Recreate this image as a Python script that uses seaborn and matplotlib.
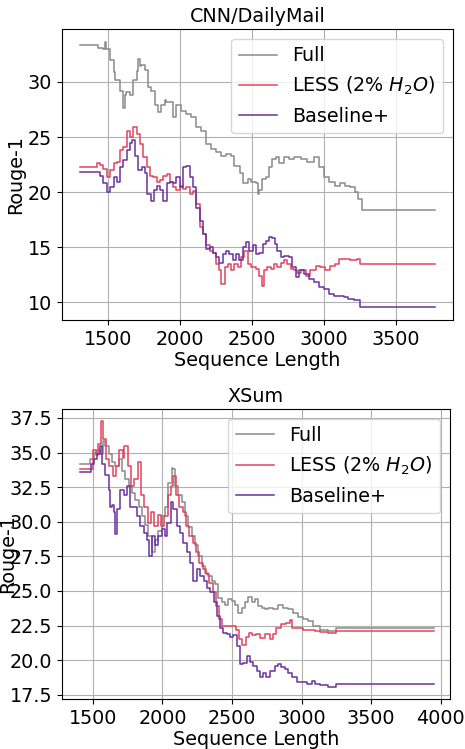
import numpy as np
import pandas as pd
import matplotlib
matplotlib.use("Agg")
import matplotlib.pyplot as plt
import seaborn as sns

methods = ["Full", "LESS (2% $H_2O$)", "Baseline+"]
colors = ["#8a8a8a", "#e2435f", "#6a329f"]

# ---- CNN/DailyMail ----
cnn_full_x = [1304, 1412, 1435, 1470, 1480, 1490, 1516, 1540, 1552, 1585, 1608, 1618, 1630, 1653, 1676,
              1700, 1711, 1722, 1734, 1757, 1780, 1803, 1826, 1849, 1872, 1895, 1907, 1930, 1953, 1976,
              2011, 2045, 2080, 2115, 2149, 2184, 2218, 2253, 2288, 2322, 2357, 2380, 2415, 2438, 2472,
              2496, 2516, 2530, 2546, 2551, 2574, 2597, 2620, 2643, 2666, 2689, 2723, 2758, 2793, 2839,
              2885, 2930, 2965, 3000, 3034, 3080, 3115, 3149, 3184, 3218, 3241, 3264, 3776]
cnn_full_y = [33.33, 33.33, 33.1, 33.0, 33.6, 33.0, 32.0, 30.9, 30.2, 29.2, 27.6, 28.8, 29.1, 28.8, 30.2,
              31.0, 32.1, 31.4, 31.5, 31.1, 29.5, 29.2, 27.9, 27.3, 27.9, 28.4, 28.2, 28.2, 26.8, 27.9,
              27.4, 27.1, 26.8, 25.9, 25.5, 24.4, 23.9, 23.6, 23.3, 23.5, 23.3, 22.4, 21.7, 20.8, 21.2,
              20.9, 20.9, 20.8, 19.8, 20.2, 21.2, 21.4, 22.3, 23.0, 23.2, 22.6, 23.2, 23.0, 23.2, 23.0,
              22.7, 23.2, 22.3, 21.4, 20.9, 20.6, 20.8, 20.6, 20.5, 20.0, 19.4, 18.4, 18.4]

cnn_less_x = [1304, 1412, 1424, 1447, 1470, 1493, 1516, 1540, 1563, 1586, 1609, 1632, 1655, 1678, 1701,
              1724, 1747, 1770, 1793, 1816, 1839, 1862, 1885, 1908, 1931, 1954, 1977, 2000, 2023, 2046,
              2069, 2092, 2115, 2138, 2161, 2184, 2207, 2230, 2253, 2276, 2288, 2311, 2334, 2357, 2380,
              2403, 2426, 2449, 2472, 2496, 2530, 2551, 2570, 2586, 2609, 2632, 2655, 2678, 2701, 2724,
              2747, 2770, 2793, 2816, 2839, 2874, 2908, 2943, 2977, 3011, 3046, 3080, 3103, 3138, 3184,
              3230, 3253, 3776]
cnn_less_y = [22.3, 22.3, 22.6, 22.5, 22.1, 21.4, 22.0, 22.6, 22.7, 23.8, 24.1, 25.5, 25.0, 25.9, 25.3,
              24.4, 23.2, 22.3, 21.5, 21.4, 20.9, 21.1, 21.5, 21.6, 20.9, 20.5, 20.2, 20.6, 20.3, 20.5,
              19.8, 20.1, 18.9, 16.8, 16.2, 15.2, 14.7, 14.5, 13.5, 12.9, 11.7, 13.2, 13.5, 12.9, 13.5,
              13.2, 14.1, 14.7, 13.5, 13.2, 13.0, 12.4, 11.5, 12.9, 13.2, 13.0, 13.5, 13.2, 13.6, 13.8,
              13.5, 13.0, 12.9, 12.7, 12.9, 12.4, 12.9, 13.3, 13.2, 12.9, 13.3, 13.5, 13.9, 13.9, 13.8,
              13.9, 13.5, 13.5]

cnn_base_x = [1304, 1424, 1447, 1470, 1493, 1516, 1540, 1563, 1586, 1609, 1632, 1655, 1666, 1689, 1712,
              1735, 1758, 1775, 1798, 1821, 1844, 1862, 1885, 1908, 1931, 1954, 1977, 2000, 2023, 2046,
              2069, 2092, 2115, 2138, 2161, 2184, 2207, 2230, 2253, 2276, 2299, 2322, 2345, 2368, 2391,
              2414, 2437, 2460, 2483, 2506, 2530, 2553, 2577, 2597, 2620, 2643, 2659, 2678, 2701, 2724,
              2758, 2781, 2804, 2827, 2862, 2897, 2931, 2966, 3000, 3034, 3069, 3103, 3138, 3172, 3207,
              3235, 3253, 3776]
cnn_base_y = [21.8, 21.8, 21.5, 20.8, 20.0, 20.5, 21.4, 20.9, 22.3, 22.9, 23.8, 24.5, 24.7, 23.3, 22.0,
              22.3, 21.7, 19.8, 19.2, 20.2, 20.6, 20.2, 19.2, 20.8, 20.9, 20.8, 21.4, 20.5, 22.3, 22.4,
              21.4, 20.5, 18.6, 17.4, 16.2, 14.8, 15.0, 14.5, 14.1, 13.6, 14.4, 14.7, 14.4, 13.8, 14.4,
              13.8, 15.0, 15.5, 14.7, 15.2, 14.4, 14.5, 15.3, 15.6, 15.9, 15.8, 15.3, 14.7, 14.1, 14.2,
              14.1, 13.2, 12.3, 12.9, 12.6, 12.1, 11.8, 11.4, 11.2, 10.8, 10.6, 10.6, 10.5, 10.3, 10.2,
              10.2, 9.6, 9.6]

# ---- XSum ----
xsum_full_x = [1404, 1469, 1481, 1505, 1529, 1553, 1572, 1589, 1613, 1636, 1660, 1684, 1708, 1732, 1756,
               1780, 1804, 1828, 1852, 1876, 1899, 1923, 1947, 1971, 1995, 2019, 2043, 2067, 2079, 2091,
               2115, 2139, 2163, 2187, 2211, 2235, 2259, 2283, 2306, 2330, 2354, 2378, 2402, 2426, 2450,
               2474, 2498, 2522, 2546, 2570, 2594, 2618, 2641, 2665, 2689, 2713, 2740, 2759, 2795, 2831,
               2867, 2904, 2940, 2976, 3012, 3049, 3085, 3133, 3193, 3248, 3953]
xsum_full_y = [34.2, 34.2, 34.5, 35.0, 35.2, 34.9, 35.8, 35.5, 34.9, 34.3, 34.0, 34.5, 33.7, 33.1, 32.6,
               32.1, 31.6, 31.1, 30.4, 29.8, 29.0, 27.8, 28.7, 29.3, 30.4, 31.1, 32.8, 33.9, 33.8, 32.6,
               31.9, 31.4, 30.4, 29.6, 29.0, 28.3, 27.5, 26.8, 26.3, 26.1, 25.7, 25.5, 24.5, 24.2, 24.0,
               24.4, 24.3, 24.0, 23.4, 23.8, 24.2, 24.6, 24.2, 24.4, 23.9, 23.8, 23.7, 23.8, 23.7, 24.0,
               23.8, 23.7, 23.4, 23.1, 23.0, 22.8, 22.5, 22.2, 22.1, 22.3, 22.3]

xsum_less_x = [1404, 1474, 1498, 1522, 1539, 1558, 1570, 1594, 1618, 1642, 1666, 1690, 1714, 1726, 1750,
               1774, 1798, 1822, 1846, 1870, 1894, 1917, 1941, 1965, 1989, 2013, 2037, 2061, 2078, 2096,
               2120, 2144, 2168, 2192, 2216, 2240, 2264, 2288, 2312, 2336, 2360, 2384, 2408, 2431, 2455,
               2479, 2503, 2527, 2551, 2575, 2599, 2623, 2646, 2670, 2698, 2735, 2771, 2795, 2819, 2855,
               2891, 2916, 2928, 2964, 3012, 3060, 3097, 3133, 3193, 3248, 3953]
xsum_less_y = [33.8, 33.8, 35.2, 34.8, 35.6, 37.3, 36.0, 34.5, 34.0, 33.3, 34.0, 35.2, 34.6, 35.5, 34.0,
               32.6, 33.1, 34.3, 31.9, 31.1, 29.9, 30.7, 29.7, 30.5, 29.7, 30.4, 31.9, 32.6, 33.3, 31.9,
               31.1, 30.7, 29.7, 29.0, 28.5, 27.8, 27.0, 26.6, 26.2, 25.6, 24.9, 23.9, 23.0, 22.5, 22.5,
               22.5, 22.5, 22.2, 21.5, 21.1, 21.7, 22.0, 21.8, 21.9, 21.6, 21.9, 21.5, 21.9, 22.3, 22.6,
               22.7, 22.9, 22.3, 22.3, 22.2, 22.2, 22.1, 22.05, 22.0, 22.1, 22.1]

xsum_base_x = [1404, 1469, 1486, 1505, 1529, 1548, 1565, 1589, 1613, 1625, 1637, 1649, 1660, 1672, 1696,
               1720, 1744, 1768, 1792, 1816, 1840, 1864, 1888, 1900, 1923, 1947, 1971, 1995, 2019, 2036,
               2060, 2079, 2103, 2127, 2151, 2175, 2199, 2223, 2247, 2271, 2295, 2319, 2343, 2367, 2391,
               2415, 2438, 2462, 2486, 2510, 2534, 2558, 2582, 2606, 2630, 2654, 2678, 2698, 2722, 2746,
               2771, 2807, 2831, 2855, 2879, 2904, 2928, 2964, 3000, 3036, 3073, 3097, 3133, 3193, 3248,
               3953]
xsum_base_y = [33.6, 33.6, 34.2, 34.5, 34.9, 35.5, 34.2, 33.4, 32.3, 31.1, 31.2, 30.7, 29.1, 30.9, 32.3,
               31.9, 32.6, 31.1, 31.1, 30.4, 29.7, 29.2, 28.7, 27.5, 29.0, 28.3, 29.0, 29.5, 29.0, 29.9,
               31.4, 30.9, 29.7, 29.2, 28.5, 27.8, 27.0, 25.7, 26.6, 26.1, 25.7, 25.2, 24.9, 24.2, 23.2,
               22.3, 22.0, 21.9, 21.7, 21.8, 21.0, 19.7, 19.8, 20.3, 19.9, 19.6, 19.2, 18.8, 19.1, 18.8,
               19.2, 19.6, 19.7, 19.5, 19.4, 19.1, 18.8, 18.4, 18.4, 18.3, 18.5, 18.3, 18.2, 18.1, 18.3,
               18.3]

x_ticks_cnn = [1500, 2000, 2500, 3000, 3500]
x_ticks_xsum = [1500, 2000, 2500, 3000, 3500, 4000]
y_ticks_cnn = [10, 15, 20, 25, 30]
y_ticks_xsum = [17.5, 20.0, 22.5, 25.0, 27.5, 30.0, 32.5, 35.0, 37.5]


def frame(series):
    rows = []
    for m, (xs, ys) in zip(methods, series):
        for x, y in zip(xs, ys):
            rows.append({"Sequence Length": x, "Rouge-1": y, "method": m})
    return pd.DataFrame(rows)


df_cnn = frame([(cnn_full_x, cnn_full_y), (cnn_less_x, cnn_less_y), (cnn_base_x, cnn_base_y)])
df_xsum = frame([(xsum_full_x, xsum_full_y), (xsum_less_x, xsum_less_y), (xsum_base_x, xsum_base_y)])

FS = 13.8
plt.rcParams.update({"font.size": FS, "font.family": ["DejaVu Sans"]})

fig = plt.figure(figsize=(4.65, 7.49), dpi=100)
ax1 = fig.add_axes([0.1327, 0.5728, 0.8415, 0.3885])
ax2 = fig.add_axes([0.1327, 0.0668, 0.8350, 0.3872])

palette = dict(zip(methods, colors))

for ax, df, title, xt, yt, xlim, ylim, labx in [
    (ax1, df_cnn, "CNN/DailyMail", x_ticks_cnn, y_ticks_cnn, (1180, 3898), (8.4, 34.8), -0.094),
    (ax2, df_xsum, "XSum", x_ticks_xsum, y_ticks_xsum, (1275, 4068), (17.2, 38.15), -0.116),
]:
    sns.lineplot(data=df, x="Sequence Length", y="Rouge-1", hue="method", hue_order=methods,
                 palette=palette, estimator=None, drawstyle="steps-post", linewidth=1.1, ax=ax)
    ax.set_title(title, fontsize=FS, pad=5)
    ax.set_xticks(xt)
    ax.set_yticks(yt)
    if ax is ax2:
        ax.set_yticklabels([f"{v:.1f}" for v in yt])
    ax.set_xlim(*xlim)
    ax.set_ylim(*ylim)
    ax.grid(True, color="#b0b0b0", linewidth=0.8)
    ax.set_axisbelow(True)
    ax.tick_params(labelsize=FS)
    ax.set_xlabel("Sequence Length", fontsize=FS, labelpad=2)
    ax.set_ylabel("Rouge-1", fontsize=FS)
    ax.yaxis.set_label_coords(labx, 0.5)
    handles, labels = ax.get_legend_handles_labels()
    ax.legend(handles, labels, loc="upper right", fontsize=FS, framealpha=0.8)

fig.savefig("out.png", dpi=100)
